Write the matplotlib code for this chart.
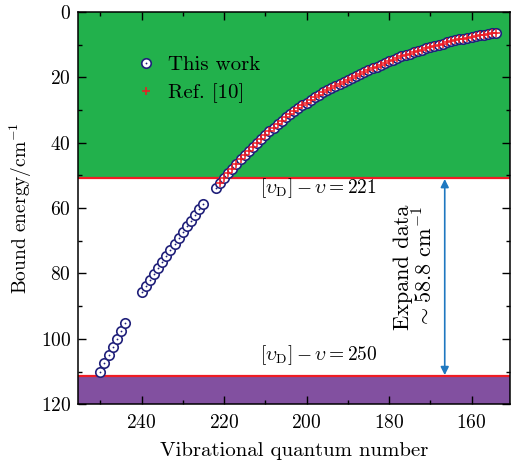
import numpy as np
import matplotlib
matplotlib.use("Agg")
import matplotlib.pyplot as plt
from matplotlib.legend_handler import HandlerTuple

plt.rcParams['font.family'] = 'serif'
plt.rcParams['font.serif'] = ['cmr10']
plt.rcParams['mathtext.fontset'] = 'cm'
plt.rcParams['axes.formatter.use_mathtext'] = True

# This work: vibrational number and bound energy (cm^-1)
v_low = [250, 249, 248, 247, 246, 245, 244]
e_low = [110.0, 107.5, 105.0, 102.6, 100.1, 97.6, 95.2]

v_mid = [240, 239, 238, 237, 236, 235, 234, 233, 232, 231, 230, 229, 228, 227, 226, 225]
e_mid = [85.8, 83.9, 82.0, 80.1, 78.2, 76.4, 74.6, 72.8, 71.0, 69.2, 67.4, 65.6, 63.8, 62.0, 60.3, 58.6]

v_high = list(range(222, 153, -1))
e_high = [53.7, 52.2, 50.7, 49.3, 47.9, 46.5, 45.1, 43.8, 42.5, 41.3, 40.0,
          38.8, 37.6, 36.5, 35.4, 34.3, 33.2, 32.2, 31.2, 30.3, 29.4, 28.5,
          27.7, 26.9, 26.1, 25.3, 24.6, 23.9, 23.2, 22.6, 21.9, 21.3, 20.7,
          20.1, 19.5, 18.9, 18.3, 17.8, 17.2, 16.7, 16.1, 15.6, 15.1, 14.6,
          14.1, 13.6, 13.2, 12.7, 12.3, 11.9, 11.5, 11.1, 10.7, 10.3, 10.0,
          9.7, 9.3, 9.0, 8.7, 8.4, 8.2, 7.9, 7.6, 7.4, 7.1, 6.9, 6.7, 6.5, 6.3]

this_v = np.array(v_low + v_mid + v_high)
this_e = np.array(e_low + e_mid + e_high)

# Ref. [10] covers [vD]-v <= 221 (same levels)
ref_v = this_v[this_v <= 221]
ref_e = this_e[this_v <= 221]

upper_limit = 50.8   # [vD]-v = 221
lower_limit = 111.4  # [vD]-v = 250

navy = '#20207a'

fig = plt.figure(figsize=(5.13, 4.63), dpi=100)
ax = fig.add_axes([0.152, 0.127, 0.842, 0.847])

ax.axhspan(0, upper_limit, color='#22b14c', lw=0, zorder=0)
ax.axhspan(lower_limit, 120, color='#8250a0', lw=0, zorder=0)
ax.axhline(upper_limit, color='#ee1c24', lw=1.6, zorder=1)
ax.axhline(lower_limit, color='#ee1c24', lw=1.6, zorder=1)

circ, = ax.plot(this_v, this_e, 'o', ms=6.8, mfc='white', mec=navy, mew=1.2, ls='none', zorder=3)
dot, = ax.plot(this_v, this_e, 'o', ms=1.3, mfc=navy, mec=navy, mew=0, ls='none', zorder=4)
plus, = ax.plot(ref_v, ref_e, '+', ms=6, mew=1.1, color='#ee1c24', ls='none', zorder=5)

ax.legend([(circ, dot), plus], ['This work', 'Ref. [10]'],
          handler_map={tuple: HandlerTuple(ndivide=1, pad=0)},
          loc='upper left', bbox_to_anchor=(0.112, 0.916), frameon=False,
          fontsize=15, handlelength=0.9, handletextpad=0.6, labelspacing=0.45,
          borderpad=0)

# double arrow for expanded region
ax.annotate('', xy=(166.5, upper_limit + 0.3), xytext=(166.5, lower_limit - 0.3),
            arrowprops=dict(arrowstyle='<|-|>', color='#1f78c0', lw=1.2,
                            mutation_scale=12, shrinkA=0, shrinkB=0))
ax.text(173.7, 78, 'Expand data\n' + r'$\sim$58.8 cm$^{-1}$', rotation=90,
        ha='center', va='center', multialignment='center', fontsize=16,
        linespacing=1.0)

ax.text(211.3, 53.8, r'$[\upsilon_{\rm D}]-\upsilon=221$', fontsize=14, va='center', ha='left')
ax.text(211.3, 104.9, r'$[\upsilon_{\rm D}]-\upsilon=250$', fontsize=14, va='center', ha='left')

ax.set_xlim(255.4, 150.7)
ax.set_ylim(120, 0)
ax.set_xticks([240, 220, 200, 180, 160])
ax.set_xticks(np.arange(250, 150, -10), minor=True)
ax.set_yticks(np.arange(0, 121, 20))
ax.set_yticks(np.arange(10, 120, 20), minor=True)
ax.tick_params(which='both', direction='in', top=True, right=True, labelsize=14, width=1.0)
ax.tick_params(which='major', length=6)
ax.tick_params(which='minor', length=3)
ax.tick_params(axis='x', which='major', pad=7)
ax.tick_params(axis='y', which='major', pad=5)
for sp in ax.spines.values():
    sp.set_linewidth(1.1)

ax.set_xlabel('Vibrational quantum number', fontsize=15, labelpad=7)
ax.set_ylabel(r'Bound energy/cm$^{-1}$', fontsize=14, labelpad=4.5)

fig.savefig('out.png', dpi=100)
